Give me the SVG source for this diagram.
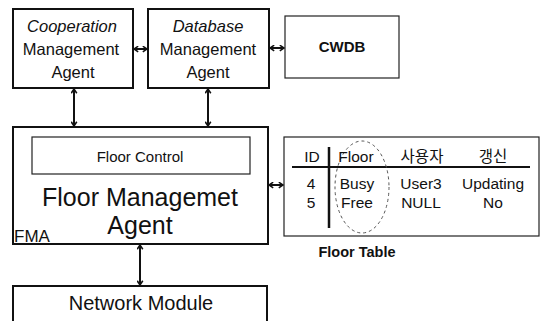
<svg xmlns="http://www.w3.org/2000/svg" width="543" height="321" viewBox="0 0 543 321">
<style>
text{font-family:"Liberation Sans",Arial,"Noto Sans CJK KR",sans-serif;fill:#111;text-anchor:middle;dominant-baseline:central}
.box{fill:#fff;stroke:#111;stroke-width:2}
.thin{fill:#fff;stroke:#222;stroke-width:1.2}
.conn{stroke:#111;stroke-width:2;fill:none;marker-start:url(#ah);marker-end:url(#ah)}
.t15{font-size:16.5px}
.tb{font-size:15.5px}
</style>
<defs>
<marker id="ah" viewBox="0 0 10 10" refX="9" refY="5" markerWidth="7" markerHeight="7" orient="auto-start-reverse" markerUnits="userSpaceOnUse">
<polyline points="3,1 9,5 3,9" fill="none" stroke="#111" stroke-width="2.2"/>
</marker>
</defs>
<rect width="543" height="321" fill="#fff"/>
<g id="coop">
<rect class="box" x="13" y="9" width="120" height="79"/>
<text class="t15" x="72" y="26" font-style="italic">Cooperation</text>
<text class="t15" x="71" y="49">Management</text>
<text class="t15" x="73" y="72">Agent</text>
</g>
<g id="dbma">
<rect class="box" x="148" y="9" width="121" height="79"/>
<text class="t15" x="208" y="26" font-style="italic">Database</text>
<text class="t15" x="208" y="49">Management</text>
<text class="t15" x="208" y="72">Agent</text>
</g>
<g id="cwdb">
<rect class="thin" x="285" y="16" width="114" height="62"/>
<text x="342" y="46" font-size="15" font-weight="bold">CWDB</text>
</g>
<g id="fma">
<rect class="box" x="13" y="127" width="255" height="117"/>
<rect class="thin" x="32" y="137" width="218" height="37"/>
<text x="140" y="156" font-size="15">Floor Control</text>
<text x="140" y="197" font-size="25">Floor Managemet</text>
<text x="140" y="225" font-size="25">Agent</text>
<text x="14" y="236" font-size="17" style="text-anchor:start">FMA</text>
</g>
<g id="network">
<rect class="box" x="13" y="286" width="254" height="45"/>
<text x="141" y="303" font-size="20">Network Module</text>
</g>
<g id="floortable">
<rect class="thin" x="284" y="137" width="255" height="99"/>
<line x1="292" y1="167" x2="530" y2="167" stroke="#111" stroke-width="2"/>
<line x1="329" y1="147" x2="329" y2="228" stroke="#111" stroke-width="2.5"/>
<ellipse cx="362" cy="187" rx="27" ry="46" fill="none" stroke="#555" stroke-width="1" stroke-dasharray="3,3"/>
<text class="tb" x="312" y="156">ID</text>
<text class="tb" x="356" y="156">Floor</text>
<text class="tb" x="422" y="156">사용자</text>
<text class="tb" x="493" y="156">갱신</text>
<text class="tb" x="311" y="183">4</text>
<text class="tb" x="357" y="183">Busy</text>
<text class="tb" x="421" y="183">User3</text>
<text class="tb" x="493" y="183">Updating</text>
<text class="tb" x="311" y="202">5</text>
<text class="tb" x="357" y="202">Free</text>
<text class="tb" x="421" y="202">NULL</text>
<text class="tb" x="493" y="202">No</text>
<text x="357" y="252" font-size="14.5" font-weight="bold">Floor Table</text>
</g>
<g id="connectors">
<line class="conn" x1="134" y1="49" x2="147" y2="49"/>
<line class="conn" x1="270" y1="48" x2="284" y2="48"/>
<line class="conn" x1="74" y1="89" x2="74" y2="126"/>
<line class="conn" x1="208" y1="89" x2="208" y2="126"/>
<line class="conn" x1="269" y1="185" x2="283" y2="185"/>
<line class="conn" x1="140" y1="245" x2="140" y2="285"/>
</g>
</svg>
